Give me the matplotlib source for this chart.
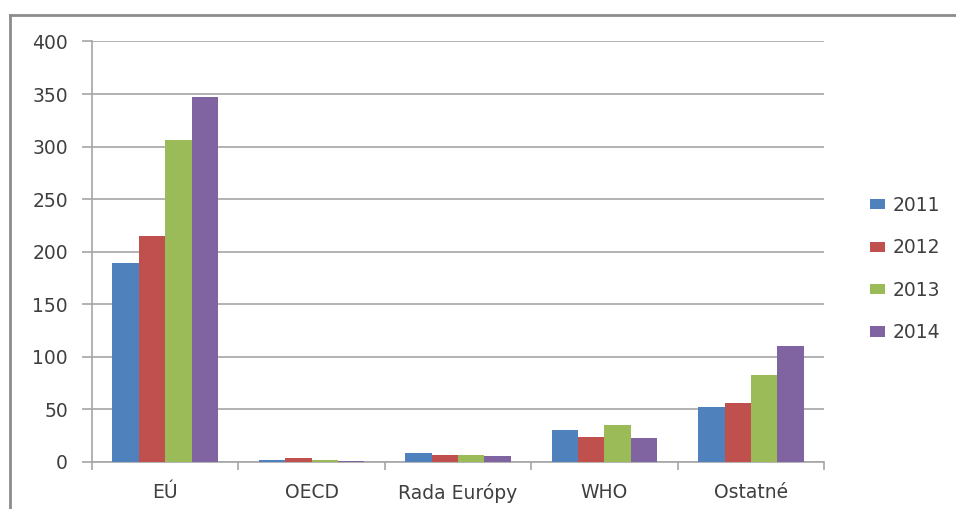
import matplotlib
matplotlib.use("Agg")
import matplotlib.pyplot as plt
import numpy as np
from matplotlib.lines import Line2D

categories = ["EÚ", "OECD", "Rada Európy", "WHO", "Ostatné"]
years = ["2011", "2012", "2013", "2014"]
v2011 = [189, 2, 8, 30, 52]
v2012 = [215, 3.5, 6.5, 24, 56]
v2013 = [306, 2, 6.5, 35, 83]
v2014 = [347, 1, 5, 23, 110]
series = [v2011, v2012, v2013, v2014]
colors = ["#4F81BD", "#C0504D", "#9BBB59", "#8064A2"]

plt.rcParams['font.family'] = ['DejaVu Sans']
FS = 13.5
TXT = "#3F3F3F"
GRID = "#A6A6A6"

fig = plt.figure(figsize=(9.56, 5.09), dpi=100)
ax = fig.add_axes([0.0962, 0.0929, 0.7658, 0.8256])

x = np.arange(len(categories))
w = 0.18
for i, (vals, c) in enumerate(zip(series, colors)):
    ax.bar(x + (i - 1.5) * w, vals, width=w, color=c, label=years[i], zorder=3)

ax.set_xlim(-0.5, len(categories) - 0.5)
ax.set_ylim(0, 400)
ax.set_yticks(np.arange(0, 401, 50))
ax.yaxis.grid(True, color=GRID, linewidth=1.2, zorder=0)
ax.set_axisbelow(True)
for s in ["top", "right"]:
    ax.spines[s].set_visible(False)
for s in ["left", "bottom"]:
    ax.spines[s].set_color(GRID)
    ax.spines[s].set_linewidth(1.2)

ax.set_xticks(x)
ax.set_xticklabels(categories, fontsize=FS, color=TXT)
ax.tick_params(axis="x", which="major", length=0, pad=15)
ax.set_xticks(np.arange(-0.5, len(categories), 1.0), minor=True)
ax.tick_params(axis="x", which="minor", length=5.8, color=GRID, width=1.2, direction="out")
ax.tick_params(axis="y", length=7.2, color=GRID, width=1.2, labelsize=FS,
               labelcolor=TXT, pad=10)

leg = ax.legend(loc="center left", bbox_to_anchor=(870 / 956, 1 - 269 / 509),
                bbox_transform=fig.transFigure, frameon=False,
                fontsize=FS, labelspacing=1.25, handlelength=0.8, handleheight=0.45,
                handletextpad=0.4, borderaxespad=0, borderpad=0)
for t in leg.get_texts():
    t.set_color(TXT)

# outer frame (top and left edges visible)
fig.add_artist(Line2D([0.0105, 1.0], [0.971, 0.971], transform=fig.transFigure,
                      color="#8C8C8C", linewidth=2))
fig.add_artist(Line2D([0.0105, 0.0105], [0.0, 0.971], transform=fig.transFigure,
                      color="#8C8C8C", linewidth=2))

fig.savefig("out.png", dpi=100)
